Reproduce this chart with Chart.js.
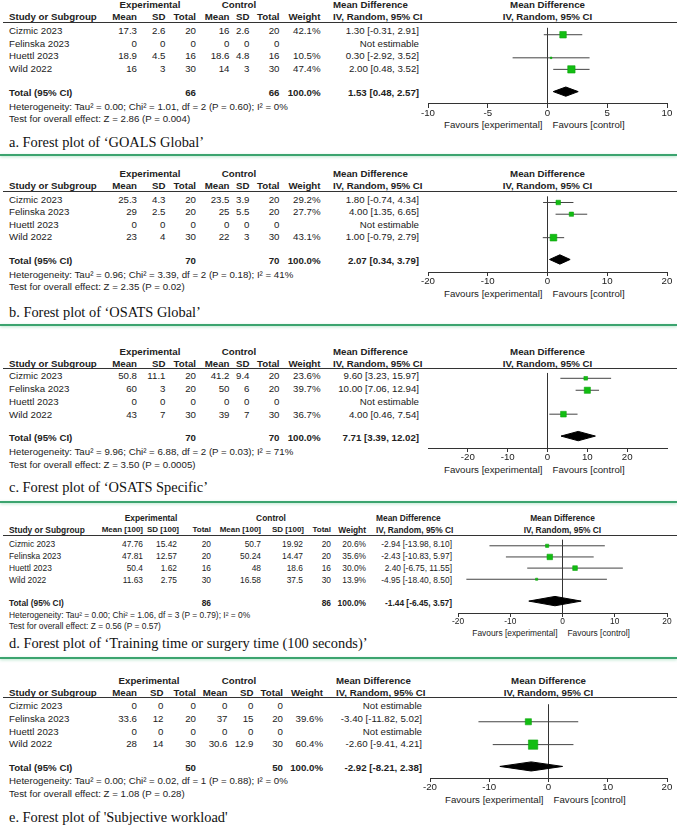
<!DOCTYPE html>
<html><head><meta charset="utf-8">
<script src="https://cdn.jsdelivr.net/npm/chart.js@4.4.1/dist/chart.umd.min.js"></script>
<style>
html,body{margin:0;padding:0;background:#fff;overflow:hidden;}
#page{position:relative;width:677px;height:828px;overflow:hidden;font-family:'Liberation Sans',Arial,sans-serif;color:#222;}
.t{position:absolute;white-space:nowrap;line-height:12px;}
.cap{font-family:'Liberation Serif','Times New Roman',serif;line-height:16px;color:#111;}
.rule{position:absolute;left:3px;right:0;height:1px;background:#333;}
.green{position:absolute;left:0;right:0;height:2px;background:#3ca46f;box-shadow:0 1px 3px rgba(80,190,130,0.45);}
canvas{position:absolute;}
</style></head><body><div id="page"></div>
<script>
// ---------- DATA ----------
const studies = ["Cizmic 2023", "Felinska 2023", "Huettl 2023", "Wild 2022"];

// a. GOALS Global
const aExpMean = [17.3, 0, 18.9, 16];
const aExpSD   = [2.6, 0, 4.5, 3];
const aExpN    = [20, 0, 16, 30];
const aCtlMean = [16, 0, 18.6, 14];
const aCtlSD   = [2.6, 0, 4.8, 3];
const aCtlN    = [20, 0, 16, 30];
const aWeight  = [42.1, null, 10.5, 47.4];
const aMD      = [1.30, null, 0.30, 2.00];
const aLo      = [-0.31, null, -2.92, 0.48];
const aHi      = [2.91, null, 3.52, 3.52];
const aTotal   = [1.53, 0.48, 2.57];
const aTotN    = [66, 66];
const aHet  = "Heterogeneity: Tau\u00B2 = 0.00; Chi\u00B2 = 1.01, df = 2 (P = 0.60); I\u00B2 = 0%";
const aTest = "Test for overall effect: Z = 2.86 (P = 0.004)";
const aTicks = [-10, -5, 0, 5, 10];
const aRange = [-10, 10];
const aCaption = "a. Forest plot of \u2018GOALS Global\u2019";

// b. OSATS Global
const bExpMean = [25.3, 29, 0, 23];
const bExpSD   = [4.3, 2.5, 0, 4];
const bExpN    = [20, 20, 0, 30];
const bCtlMean = [23.5, 25, 0, 22];
const bCtlSD   = [3.9, 5.5, 0, 3];
const bCtlN    = [20, 20, 0, 30];
const bWeight  = [29.2, 27.7, null, 43.1];
const bMD      = [1.80, 4.00, null, 1.00];
const bLo      = [-0.74, 1.35, null, -0.79];
const bHi      = [4.34, 6.65, null, 2.79];
const bTotal   = [2.07, 0.34, 3.79];
const bTotN    = [70, 70];
const bHet  = "Heterogeneity: Tau\u00B2 = 0.96; Chi\u00B2 = 3.39, df = 2 (P = 0.18); I\u00B2 = 41%";
const bTest = "Test for overall effect: Z = 2.35 (P = 0.02)";
const bTicks = [-20, -10, 0, 10, 20];
const bRange = [-20, 20];
const bCaption = "b. Forest plot of \u2018OSATS Global\u2019";

// c. OSATS Specific
const cExpMean = [50.8, 60, 0, 43];
const cExpSD   = [11.1, 3, 0, 7];
const cExpN    = [20, 20, 0, 30];
const cCtlMean = [41.2, 50, 0, 39];
const cCtlSD   = [9.4, 6, 0, 7];
const cCtlN    = [20, 20, 0, 30];
const cWeight  = [23.6, 39.7, null, 36.7];
const cMD      = [9.60, 10.00, null, 4.00];
const cLo      = [3.23, 7.06, null, 0.46];
const cHi      = [15.97, 12.94, null, 7.54];
const cTotal   = [7.71, 3.39, 12.02];
const cTotN    = [70, 70];
const cHet  = "Heterogeneity: Tau\u00B2 = 9.96; Chi\u00B2 = 6.88, df = 2 (P = 0.03); I\u00B2 = 71%";
const cTest = "Test for overall effect: Z = 3.50 (P = 0.0005)";
const cTicks = [-20, -10, 0, 10, 20];
const cRange = [-30, 30];
const cCaption = "c. Forest plot of \u2018OSATS Specific\u2019";

// d. Training time or surgery time
const dExpMean = [47.76, 47.81, 50.4, 11.63];
const dExpSD   = [15.42, 12.57, 1.62, 2.75];
const dExpN    = [20, 20, 16, 30];
const dCtlMean = [50.7, 50.24, 48, 16.58];
const dCtlSD   = [19.92, 14.47, 18.6, 37.5];
const dCtlN    = [20, 20, 16, 30];
const dWeight  = [20.6, 35.6, 30.0, 13.9];
const dMD      = [-2.94, -2.43, 2.40, -4.95];
const dLo      = [-13.98, -10.83, -6.75, -18.40];
const dHi      = [8.10, 5.97, 11.55, 8.50];
const dTotal   = [-1.44, -6.45, 3.57];
const dTotN    = [86, 86];
const dHet  = "Heterogeneity: Tau\u00B2 = 0.00; Chi\u00B2 = 1.06, df = 3 (P = 0.79); I\u00B2 = 0%";
const dTest = "Test for overall effect: Z = 0.56 (P = 0.57)";
const dTicks = [-20, -10, 0, 10, 20];
const dRange = [-20, 20];
const dCaption = "d. Forest plot of \u2018Training time or surgery time (100 seconds)\u2019";

// e. Subjective workload
const eExpMean = [0, 33.6, 0, 28];
const eExpSD   = [0, 12, 0, 14];
const eExpN    = [0, 20, 0, 30];
const eCtlMean = [0, 37, 0, 30.6];
const eCtlSD   = [0, 15, 0, 12.9];
const eCtlN    = [0, 20, 0, 30];
const eWeight  = [null, 39.6, null, 60.4];
const eMD      = [null, -3.40, null, -2.60];
const eLo      = [null, -11.82, null, -9.41];
const eHi      = [null, 5.02, null, 4.21];
const eTotal   = [-2.92, -8.21, 2.38];
const eTotN    = [50, 50];
const eHet  = "Heterogeneity: Tau\u00B2 = 0.00; Chi\u00B2 = 0.02, df = 1 (P = 0.88); I\u00B2 = 0%";
const eTest = "Test for overall effect: Z = 1.08 (P = 0.28)";
const eTicks = [-20, -10, 0, 10, 20];
const eRange = [-20, 20];
const eCaption = "e. Forest plot of 'Subjective workload'";

const hdrStd = ["Mean", "SD", "Total", "Mean", "SD", "Total"];
const hdrD   = ["Mean [100]", "SD [100]", "Total", "Mean [100]", "SD [100]", "Total"];

// ---------- LAYOUT ----------
const colsStd = {name:9, v:[137,165.5,196,229.5,249.5,279.5], weight:320.5, md:419, mdHdr:333, expC:150, ctlC:239};
const colsE   = {name:9, v:[137,163.5,196,227.5,253.5,283], weight:323, md:422, mdHdr:336, expC:149, ctlC:239};
const colsD   = {name:9, v:[143,177,211,261,303,331], hv:[143,179,211,261,304,331], weight:366, md:452, mdHdr:376, expC:151, ctlC:271, hfs:8};

const panels = [
  {d:[aExpMean,aExpSD,aExpN,aCtlMean,aCtlSD,aCtlN], w:aWeight, md:aMD, lo:aLo, hi:aHi, tot:aTotal, totN:aTotN, het:aHet, test:aTest, ticks:aTicks, range:aRange, caption:aCaption, hdr:hdrStd,
   L:{line:21.5, axis:104, row0:31.7, pitch:12.5, total:93.3, het:107.7, test:119, caption:141.7, fav:125, fs:9.7, ax:[428,667], cols:colsStd}},
  {d:[bExpMean,bExpSD,bExpN,bCtlMean,bCtlSD,bCtlN], w:bWeight, md:bMD, lo:bLo, hi:bHi, tot:bTotal, totN:bTotN, het:bHet, test:bTest, ticks:bTicks, range:bRange, caption:bCaption, hdr:hdrStd,
   L:{line:190.7, axis:271.7, row0:200, pitch:12.55, total:261, het:275, test:287.7, caption:311.7, fav:294, fs:9.7, ax:[428,667], cols:colsStd}},
  {d:[cExpMean,cExpSD,cExpN,cCtlMean,cCtlSD,cCtlN], w:cWeight, md:cMD, lo:cLo, hi:cHi, tot:cTotal, totN:cTotN, het:cHet, test:cTest, ticks:cTicks, range:cRange, caption:cCaption, hdr:hdrStd,
   L:{line:368.3, axis:448.3, row0:376.7, pitch:12.75, total:438.3, het:452.7, test:465, caption:486.7, fav:470.7, fs:9.7, ax:[428,667], cols:colsStd}},
  {d:[dExpMean,dExpSD,dExpN,dCtlMean,dCtlSD,dCtlN], w:dWeight, md:dMD, lo:dLo, hi:dHi, tot:dTotal, totN:dTotN, het:dHet, test:dTest, ticks:dTicks, range:dRange, caption:dCaption, hdr:hdrD,
   L:{line:535, axis:613.3, row0:544.3, pitch:11.9, total:603.3, het:615.7, test:626.7, caption:643.3, fav:633.3, fs:8.4, ax:[458,667], cols:colsD}},
  {d:[eExpMean,eExpSD,eExpN,eCtlMean,eCtlSD,eCtlN], w:eWeight, md:eMD, lo:eLo, hi:eHi, tot:eTotal, totN:eTotN, het:eHet, test:eTest, ticks:eTicks, range:eRange, caption:eCaption, hdr:hdrStd,
   L:{line:697.3, axis:778.3, row0:706.7, pitch:12.55, total:768.3, het:781.7, test:794.3, caption:816.7, fav:800, fs:9.7, ax:[430,667], cols:colsE}}
];
const greenLines = [155, 325, 501.5, 658.3];

// ---------- RENDER ----------
const page = document.getElementById('page');
function txt(x, y, s, o = {}) {
  const el = document.createElement('div');
  el.className = 't' + (o.cap ? ' cap' : '');
  el.textContent = s;
  el.style.fontSize = (o.fs || 9.7) + 'px';
  if (o.bold) el.style.fontWeight = 'bold';
  el.style.top = (y - (o.cap ? 8 : 6.3)) + 'px';
  if (o.align === 'right') { el.style.right = (677 - x) + 'px'; el.style.textAlign = 'right'; }
  else if (o.align === 'center') { el.style.left = (x - 150) + 'px'; el.style.width = '300px'; el.style.textAlign = 'center'; }
  else el.style.left = x + 'px';
  page.appendChild(el);
}
const f2 = v => v.toFixed(2);
const mdStr = (m, l, h) => m === null ? 'Not estimable' : `${f2(m)} [${f2(l)}, ${f2(h)}]`;

greenLines.forEach(y => {
  const g = document.createElement('div'); g.className = 'green'; g.style.top = (y - 1) + 'px'; page.appendChild(g);
});

panels.forEach(P => {
  const L = P.L, C = L.cols, fs = L.fs, hfs = C.hfs || fs, hv = C.hv || C.v;
  const zeroPx = L.ax[0] + (0 - P.range[0]) / (P.range[1] - P.range[0]) * (L.ax[1] - L.ax[0]);
  const h1 = L.line - 16.5, h2 = L.line - 4.5;
  const r = document.createElement('div'); r.className = 'rule'; r.style.top = L.line + 'px'; page.appendChild(r);
  txt(C.expC, h1, 'Experimental', {align:'center', bold:true, fs});
  txt(C.ctlC, h1, 'Control', {align:'center', bold:true, fs});
  txt(C.mdHdr, h1, 'Mean Difference', {bold:true, fs});
  txt(zeroPx, h1, 'Mean Difference', {align:'center', bold:true, fs});
  txt(C.name, h2, 'Study or Subgroup', {bold:true, fs});
  P.hdr.forEach((hname, k) => txt(hv[k], h2, hname, {align:'right', bold:true, fs:hfs}));
  txt(C.weight, h2, 'Weight', {align:'right', bold:true, fs});
  txt(C.mdHdr, h2, 'IV, Random, 95% CI', {bold:true, fs});
  txt(zeroPx, h2, 'IV, Random, 95% CI', {align:'center', bold:true, fs});
  studies.forEach((s, i) => {
    const y = L.row0 + L.pitch * i;
    txt(C.name, y, s, {fs});
    P.d.forEach((arr, k) => txt(C.v[k], y, String(arr[i]), {align:'right', fs}));
    if (P.w[i] !== null) txt(C.weight, y, P.w[i].toFixed(1) + '%', {align:'right', fs});
    txt(C.md, y, mdStr(P.md[i], P.lo[i], P.hi[i]), {align:'right', fs});
  });
  txt(C.name, L.total, 'Total (95% CI)', {bold:true, fs});
  txt(C.v[2], L.total, String(P.totN[0]), {align:'right', bold:true, fs});
  txt(C.v[5], L.total, String(P.totN[1]), {align:'right', bold:true, fs});
  txt(C.weight, L.total, '100.0%', {align:'right', bold:true, fs});
  txt(C.md, L.total, mdStr(P.tot[0], P.tot[1], P.tot[2]), {align:'right', bold:true, fs});
  txt(C.name, L.het, P.het, {fs});
  txt(C.name, L.test, P.test, {fs});
  txt(C.name, L.caption, P.caption, {cap:true, fs:14.4});
  txt(zeroPx - 5, L.fav, 'Favours [experimental]', {align:'right', fs});
  txt(zeroPx + 5, L.fav, 'Favours [control]', {fs});

  const H = L.axis - L.line, AXH = 20;
  const markOff = (L.row0 - 2.7) - L.line;
  const yMin = -markOff / L.pitch;
  const yMax = (H - markOff) / L.pitch;
  const totY = (L.total - L.row0) / L.pitch;
  const dh = 5 / L.pitch;
  const cv = document.createElement('canvas');
  cv.width = 277; cv.height = H + AXH;
  cv.style.left = '400px'; cv.style.top = L.line + 'px';
  page.appendChild(cv);

  const datasets = [];
  P.md.forEach((m, i) => {
    if (m === null) return;
    datasets.push({data:[{x:P.lo[i], y:i}, {x:P.hi[i], y:i}], showLine:true, borderColor:'#444', borderWidth:1, pointRadius:0, order:3});
  });
  const sq = [];
  P.md.forEach((m, i) => { if (m !== null) sq.push({x:m, y:i, w:P.w[i]}); });
  datasets.push({data:sq, pointStyle:'rect', pointRadius:c => c.raw ? c.raw.w * 0.155 / Math.SQRT2 : 0,
    backgroundColor:'#12bd12', borderColor:'#0ea50e', borderWidth:0.6, order:1});
  const [tm, tl, th] = P.tot;
  datasets.push({data:[{x:tl, y:totY}, {x:tm, y:totY - dh}, {x:th, y:totY}, {x:tm, y:totY + dh}, {x:tl, y:totY}],
    showLine:true, fill:'shape', backgroundColor:'#000', borderColor:'#000', borderWidth:1, pointRadius:0, tension:0, order:2});

  const tickList = P.ticks;
  new Chart(cv, {
    type:'scatter',
    data:{datasets},
    options:{
      responsive:false, animation:false, events:[],
      layout:{padding:{left:L.ax[0] - 400, right:677 - L.ax[1], top:0, bottom:0}},
      plugins:{legend:{display:false}, tooltip:{enabled:false}},
      scales:{
        x:{type:'linear', min:P.range[0], max:P.range[1],
           afterBuildTicks:s => { s.ticks = tickList.map(v => ({value:v})); },
           afterFit:s => { s.height = AXH; },
           ticks:{font:{family:"'Liberation Sans', Arial, sans-serif", size:fs}, color:'#222', padding:0, maxRotation:0, autoSkip:false},
           grid:{drawOnChartArea:true, drawTicks:true, tickLength:4, tickColor:'#333', lineWidth:1,
                 color:c => (c.tick && c.tick.value === 0) ? '#333' : 'rgba(0,0,0,0)'},
           border:{display:true, color:'#333', width:1}},
        y:{type:'linear', display:false, reverse:true, min:yMin, max:yMax}
      }
    }
  });
});
</script></body></html>
